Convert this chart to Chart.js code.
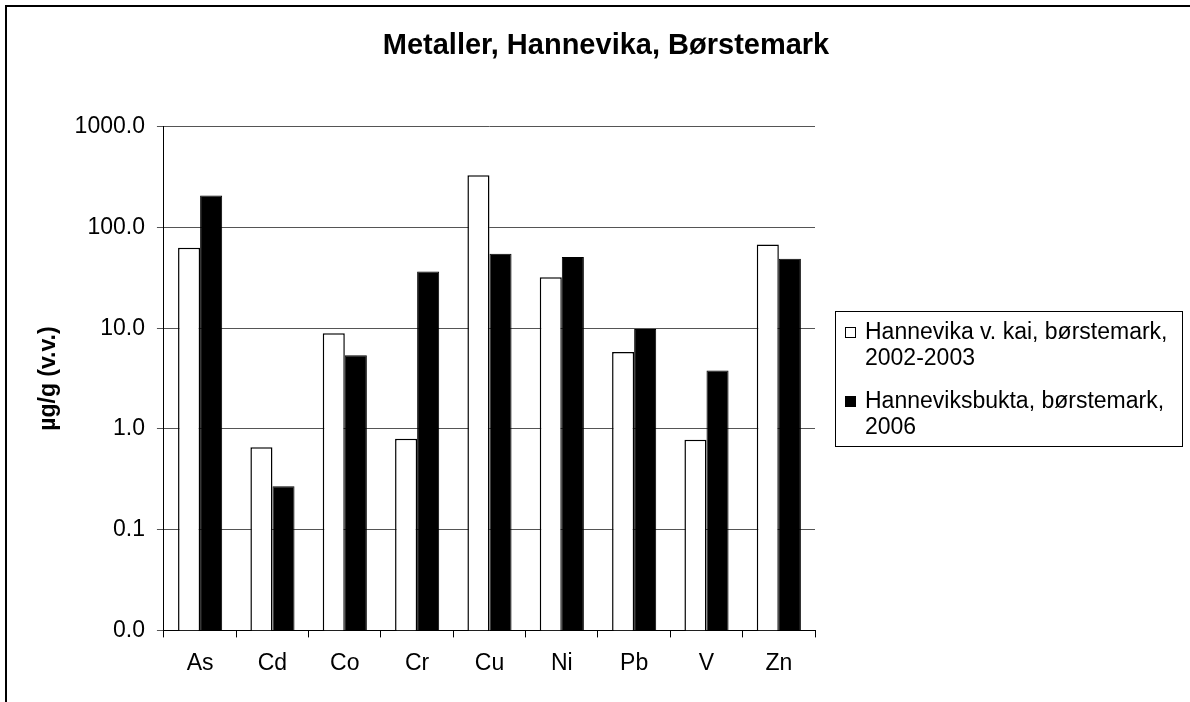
<!DOCTYPE html>
<html>
<head>
<meta charset="utf-8">
<script src="https://cdn.jsdelivr.net/npm/chart.js@4/dist/chart.umd.min.js"></script>
<style>
  body { margin: 0; background: #fff; }
  #wrap { width: 1190px; height: 702px; }
</style>
</head>
<body>
<div id="wrap"><canvas id="myChart" width="1190" height="702"></canvas></div>
<script>
// values (µg/g wet weight)
var metals = ['As', 'Cd', 'Co', 'Cr', 'Cu', 'Ni', 'Pb', 'V', 'Zn'];
var kai2002 = [63, 0.66, 8.9, 0.80, 330, 32, 5.8, 0.78, 68];
var bukta2006 = [208, 0.27, 5.4, 36.6, 55, 51, 9.8, 3.8, 49];
var seriesNames = [
  ['Hannevika v. kai, børstemark,', '2002-2003'],
  ['Hanneviksbukta, børstemark,', '2006']
];
var yTicks = [0.01, 0.1, 1, 10, 100, 1000];

Chart.defaults.font.family = '"Liberation Sans", Arial, sans-serif';
Chart.defaults.color = '#000';

// frame round the whole chart
const frame = {
  id: 'frame',
  afterDraw(chart) {
    const ctx = chart.ctx;
    ctx.save();
    ctx.strokeStyle = '#000';
    ctx.lineWidth = 2;
    ctx.strokeRect(6, 6, 1220, 740);
    ctx.restore();
  }
};

// boxed legend with two-line labels
const boxLegend = {
  id: 'boxLegend',
  afterDraw(chart) {
    const ctx = chart.ctx;
    const x0 = chart.chartArea.right + 20;
    ctx.save();
    ctx.strokeStyle = '#000';
    ctx.lineWidth = 1;
    ctx.strokeRect(x0 + 0.5, 311.5, 347, 135);
    ctx.font = '23px "Liberation Sans", Arial, sans-serif';
    ctx.textBaseline = 'middle';
    ctx.textAlign = 'left';
    ctx.fillStyle = '#000';
    const rows = [333, 402];
    chart.data.datasets.forEach((ds, i) => {
      const y = rows[i];
      ctx.fillStyle = ds.backgroundColor;
      ctx.fillRect(x0 + 10.5, y - 5.5, 10, 10);
      ctx.strokeStyle = '#000';
      ctx.strokeRect(x0 + 10.5, y - 5.5, 10, 10);
      ctx.fillStyle = '#000';
      seriesNames[i].forEach((line, j) => {
        ctx.fillText(line, x0 + 30, y + j * 26);
      });
    });
    ctx.restore();
  }
};

var myChart = new Chart(document.getElementById('myChart'), {
  type: 'bar',
  data: {
    labels: metals,
    datasets: [{
      label: seriesNames[0].join(' '),
      data: kai2002,
      backgroundColor: '#ffffff',
      borderColor: '#000000',
      borderWidth: 1.5
    }, {
      label: seriesNames[1].join(' '),
      data: bukta2006,
      backgroundColor: '#000000',
      borderColor: '#000000',
      borderWidth: 1
    }]
  },
  options: {
    responsive: false,
    animation: false,
    datasets: {
      bar: { categoryPercentage: 0.61, barPercentage: 1.0 }
    },
    layout: { padding: { left: 24, right: 2, top: 10, bottom: 13 } },
    scales: {
      x: {
        grid: { display: true, drawOnChartArea: false, offset: true, tickLength: 7, color: '#000' },
        border: { display: true, color: '#000' },
        ticks: { font: { size: 23 }, padding: 12, color: '#000' }
      },
      y: {
        type: 'logarithmic',
        min: 0.01,
        max: 1000,
        afterBuildTicks(scale) {
          scale.ticks = yTicks.map(v => ({ value: v }));
        },
        grid: { color: '#555', tickLength: 7 },
        border: { display: true, color: '#000' },
        ticks: {
          font: { size: 23 },
          padding: 12,
          color: '#000',
          callback: v => Number(v).toFixed(1)
        },
        title: {
          display: true,
          text: 'µg/g (v.v.)',
          font: { size: 23, weight: 'bold' },
          padding: { top: 11, bottom: 0 },
          color: '#000'
        }
      },
      pad: {
        type: 'linear',
        position: 'right',
        display: true,
        grid: { display: false },
        border: { display: false },
        ticks: { display: false },
        afterFit(scale) { scale.width = 373; }
      }
    },
    plugins: {
      legend: { display: false },
      tooltip: { enabled: false },
      title: {
        display: true,
        text: 'Metaller, Hannevika, Børstemark',
        font: { size: 29, weight: 'bold' },
        color: '#000',
        padding: { top: 19, bottom: 63 }
      }
    }
  },
  plugins: [frame, boxLegend]
});
</script>
</body>
</html>
